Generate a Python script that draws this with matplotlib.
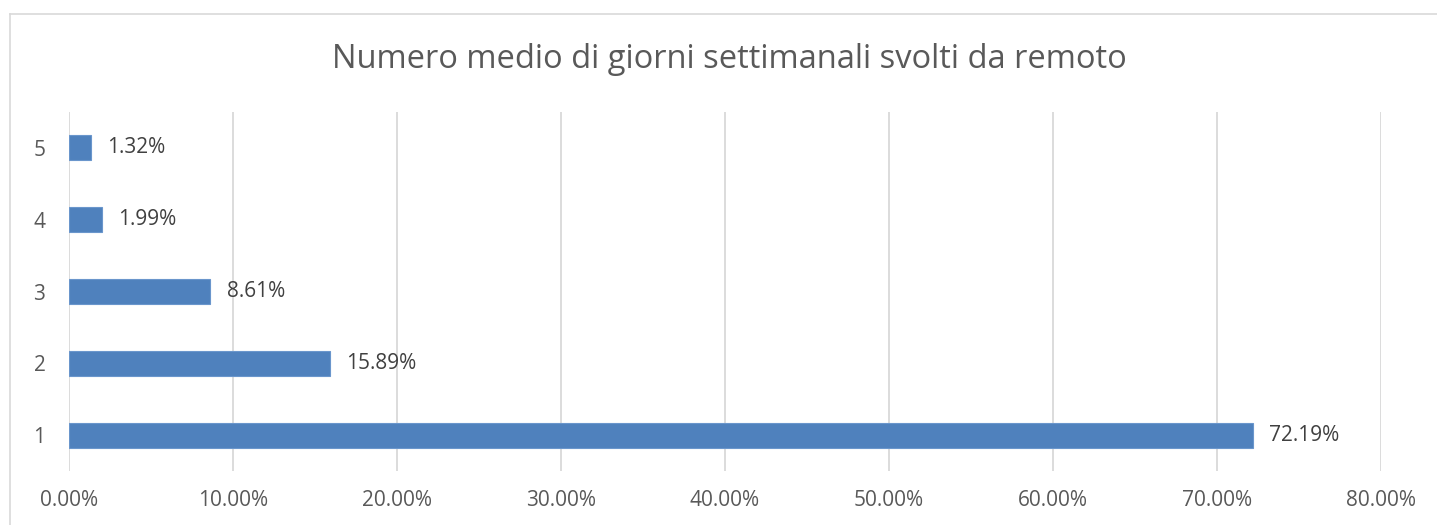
import matplotlib.pyplot as plt
from matplotlib.lines import Line2D

plt.rcParams['font.family'] = ['Open Sans', 'DejaVu Sans']

# dati
giorni = ['1', '2', '3', '4', '5']
quote = [72.19, 15.89, 8.61, 1.99, 1.32]
xticks = [0, 10, 20, 30, 40, 50, 60, 70, 80]

W, H = 1437, 525
fig = plt.figure(figsize=(W / 100, H / 100), dpi=100)
ax = fig.add_axes([69 / W, 1 - 471 / H, (1381 - 69) / W, (471 - 112) / H])

pos = list(range(1, len(giorni) + 1))
bars = ax.barh(pos, quote, height=0.35, color='#4F81BD', edgecolor='#6A96CC',
               linewidth=0.8, zorder=3)

for b, v in zip(bars, quote):
    ax.text(b.get_width() + 1.0, b.get_y() + b.get_height() / 2, f'{v:.2f}%',
            va='center', ha='left', fontsize=15, color='#404040')

ax.set_xlim(0, 80)
ax.set_ylim(0.5, 5.5)
ax.set_xticks(xticks)
ax.set_xticklabels([f'{t:.2f}%' for t in xticks])
ax.set_yticks(pos)
ax.set_yticklabels(giorni)
ax.tick_params(length=0, labelsize=15, labelcolor='#595959')
ax.tick_params(axis='x', pad=14)
ax.tick_params(axis='y', pad=17)
ax.grid(axis='x', color='#D9D9D9', linewidth=1.3, zorder=0)
for s in ax.spines.values():
    s.set_visible(False)

fig.text(729 / W, 1 - 60 / H, 'Numero medio di giorni settimanali svolti da remoto',
         ha='center', va='center', fontsize=23.5, color='#595959')

# bordo del grafico (solo lato superiore e sinistro visibili)
fig.add_artist(Line2D([9.5 / W, 1], [1 - 13.5 / H, 1 - 13.5 / H],
                      transform=fig.transFigure, color='#D9D9D9', linewidth=1.2))
fig.add_artist(Line2D([9.5 / W, 9.5 / W], [0, 1 - 13.5 / H],
                      transform=fig.transFigure, color='#D9D9D9', linewidth=1.2))

fig.savefig('out.png', dpi=100)
